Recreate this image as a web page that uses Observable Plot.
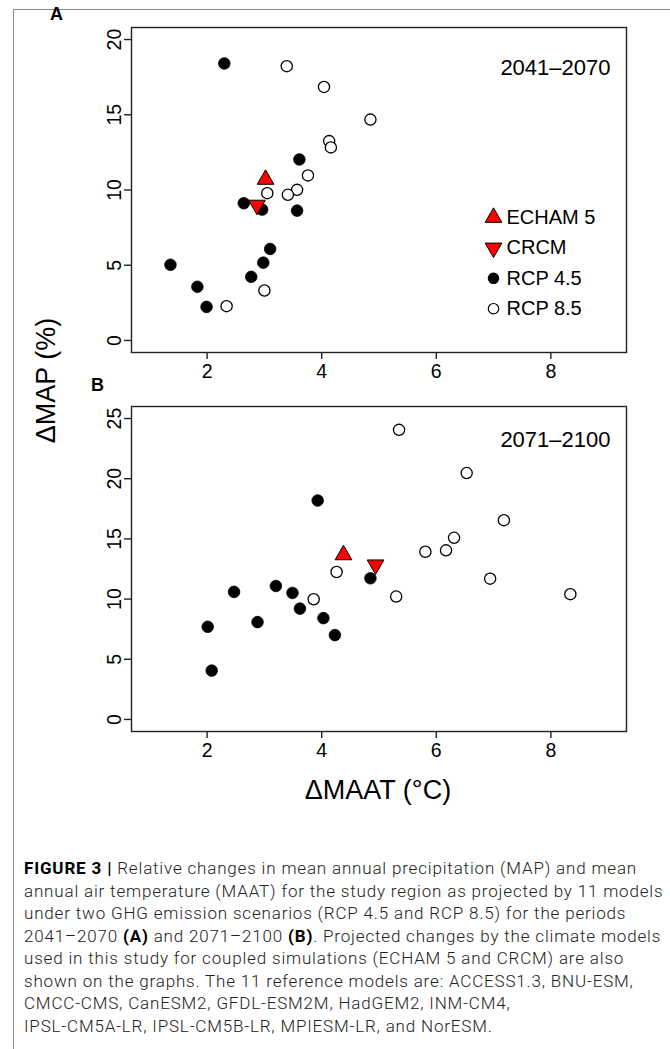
<!DOCTYPE html>
<html>
<head>
<meta charset="utf-8">
<script src="https://cdn.jsdelivr.net/npm/d3@7"></script>
<script src="https://cdn.jsdelivr.net/npm/@observablehq/plot@0.6"></script>
<style>
  html, body { margin: 0; padding: 0; background: #fff; }
  #fig { position: relative; width: 670px; height: 1049px; overflow: hidden; font-family: "Liberation Sans", Arial, sans-serif; color: #000; }
  .rule-top { position: absolute; left: 13px; top: 9px; width: 657px; height: 0; border-top: 1.5px solid #8a8a8a; }
  .rule-left { position: absolute; left: 13px; top: 9px; width: 0; height: 1040px; border-left: 1.5px solid #8a8a8a; }
  .panel { position: absolute; left: 0; }
  .plabel { position: absolute; font-weight: bold; font-size: 18px; line-height: 1; }
  .ytitle { position: absolute; font-size: 27px; white-space: nowrap; transform-origin: center center; }
  .xtitle { position: absolute; font-size: 27px; white-space: nowrap; }
  #caption { position: absolute; left: 24px; top: 857px; font-family: Roboto, "Liberation Sans", sans-serif; font-weight: 300; font-size: 17px; line-height: 22.5px; color: #222; }
  #caption div { white-space: nowrap; width: max-content; }
  #caption b { font-weight: 700; color: #000; }
</style>
</head>
<body>
<div id="fig">
  <div class="rule-top"></div>
  <div class="rule-left"></div>
  <div id="panelA" class="panel" style="top:0px"></div>
  <div id="panelB" class="panel" style="top:380px"></div>
  <div class="plabel" style="left:50px; top:5px;">A</div>
  <div class="plabel" style="left:91px; top:376px;">B</div>
  <div class="ytitle" id="ytitle">ΔMAP (%)</div>
  <div class="xtitle" id="xtitle">ΔMAAT (°C)</div>
  <div id="caption">
    <div><b>FIGURE 3 |</b> Relative changes in mean annual precipitation (MAP) and mean</div>
    <div>annual air temperature (MAAT) for the study region as projected by 11 models</div>
    <div>under two GHG emission scenarios (RCP 4.5 and RCP 8.5) for the periods</div>
    <div>2041–2070 <b>(A)</b> and 2071–2100 <b>(B)</b>. Projected changes by the climate models</div>
    <div>used in this study for coupled simulations (ECHAM 5 and CRCM) are also</div>
    <div>shown on the graphs. The 11 reference models are: ACCESS1.3, BNU-ESM,</div>
    <div>CMCC-CMS, CanESM2, GFDL-ESM2M, HadGEM2, INM-CM4,</div>
    <div>IPSL-CM5A-LR, IPSL-CM5B-LR, MPIESM-LR, and NorESM.</div>
  </div>
</div>
<script>
// ---------- data ----------
const xTicks = [2, 4, 6, 8];
const yTicksA = [0, 5, 10, 15, 20];
const yTicksB = [0, 5, 10, 15, 20, 25];

// Panel A: 2041–2070
const a45x = [2.30, 3.61, 2.64, 2.96, 3.57, 3.10, 2.98, 1.36, 2.77, 1.83, 1.99];
const a45y = [18.41, 12.03, 9.12, 8.70, 8.63, 6.08, 5.17, 5.03, 4.23, 3.57, 2.23];
const a85x = [3.39, 4.04, 4.85, 4.13, 4.16, 3.76, 3.05, 3.57, 3.41, 3.00, 2.34];
const a85y = [18.23, 16.85, 14.68, 13.25, 12.83, 10.97, 9.79, 10.01, 9.68, 3.32, 2.28];
const aEchamX = [3.02], aEchamY = [10.70];
const aCrcmX = [2.87], aCrcmY = [9.00];

// Panel B: 2071–2100
const b45x = [3.93, 4.85, 3.20, 2.47, 3.49, 3.62, 2.88, 4.03, 2.01, 4.23, 2.08];
const b45y = [18.19, 11.73, 11.09, 10.60, 10.51, 9.21, 8.09, 8.42, 7.70, 7.01, 4.06];
const b85x = [5.35, 6.53, 7.18, 6.31, 5.81, 6.17, 4.26, 6.94, 5.30, 3.86, 8.34];
const b85y = [24.06, 20.47, 16.56, 15.09, 13.93, 14.05, 12.25, 11.70, 10.21, 9.99, 10.41];
const bEchamX = [4.38], bEchamY = [13.67];
const bCrcmX = [4.94], bCrcmY = [12.85];

const periods = ["2041–2070", "2071–2100"];
const legendLabels = ["ECHAM 5", "CRCM", "RCP 4.5", "RCP 8.5"];

// ---------- helpers ----------
const zip = (xs, ys) => xs.map((x, i) => ({x, y: ys[i]}));
const FONT = "'Liberation Sans', Arial, Helvetica, sans-serif";
const INK = "#222";

const legendStyles = [
  {symbol: "triangle", rotate: 0, fill: "#ff0000", r: 6.2},
  {symbol: "triangle", rotate: 180, fill: "#ff0000", r: 6.2},
  {symbol: "circle", rotate: 0, fill: "#000", r: 5.2},
  {symbol: "circle", rotate: 0, fill: "#fff", r: 5.2}
];

function panel({height, marginTop, marginBottom, yDomain, yTicks, r45, r85, echam, crcm, period, periodDy, legend}) {
  const marks = [
    Plot.frame({stroke: INK, strokeWidth: 1.4}),
    Plot.axisX(xTicks, {label: null, tickSize: 7, tickPadding: 5, fontSize: 19.5, stroke: INK, strokeWidth: 1.4, fill: "#000"}),
    Plot.axisY(yTicks, {label: null, tickSize: 7, tickPadding: 4, tickRotate: -90, fontSize: 19.5, stroke: INK, strokeWidth: 1.4, fill: "#000"}),
    Plot.dot(r85, {x: "x", y: "y", r: 5.6, fill: "#fff", stroke: "#000", strokeWidth: 1.3}),
    Plot.dot(r45, {x: "x", y: "y", r: 5.8, fill: "#000", stroke: "#000", strokeWidth: 0.8}),
    Plot.dot(echam, {x: "x", y: "y", symbol: "triangle", r: 6.2, fill: "#ff0000", stroke: "#000", strokeWidth: 1}),
    Plot.dot(crcm, {x: "x", y: "y", symbol: "triangle", rotate: 180, r: 6.2, fill: "#ff0000", stroke: "#000", strokeWidth: 1}),
    Plot.text([period], {frameAnchor: "top-right", dx: -16, dy: periodDy, fontSize: 22, textAnchor: "end", lineAnchor: "middle", fill: "#000"})
  ];
  if (legend) {
    legendLabels.forEach((label, i) => {
      const s = legendStyles[i];
      const dy = 190 + i * 30.4;
      marks.push(Plot.dot([label], {frameAnchor: "top-left", dx: 362, dy, symbol: s.symbol, rotate: s.rotate, r: s.r, fill: s.fill, stroke: "#000", strokeWidth: s.symbol === "circle" ? 1.2 : 1}));
      marks.push(Plot.text([label], {frameAnchor: "top-left", dx: 375, dy, text: d => d, fontSize: 20, textAnchor: "start", lineAnchor: "middle", fill: "#000"}));
    });
  }
  return Plot.plot({
    width: 670, height, marginLeft: 131, marginRight: 44, marginTop, marginBottom,
    style: {fontFamily: FONT, background: "transparent", color: "#000", overflow: "visible"},
    x: {domain: [0.68, 9.32], axis: null},
    y: {domain: yDomain, axis: null},
    marks
  });
}

document.getElementById("panelA").appendChild(panel({
  height: 380, marginTop: 27, marginBottom: 28,
  yDomain: [-0.8, 20.8], yTicks: yTicksA,
  r45: zip(a45x, a45y), r85: zip(a85x, a85y),
  echam: zip(aEchamX, aEchamY), crcm: zip(aCrcmX, aCrcmY),
  period: periods[0], periodDy: 40, legend: true
}));

document.getElementById("panelB").appendChild(panel({
  height: 400, marginTop: 26, marginBottom: 49,
  yDomain: [-1, 26], yTicks: yTicksB,
  r45: zip(b45x, b45y), r85: zip(b85x, b85y),
  echam: zip(bEchamX, bEchamY), crcm: zip(bCrcmX, bCrcmY),
  period: periods[1], periodDy: 33, legend: false
}));

// axis titles
const yt = document.getElementById("ytitle");
const ytw = yt.getBoundingClientRect().width, yth = yt.getBoundingClientRect().height;
yt.style.left = (47 - ytw / 2) + "px";
yt.style.top = (380 - yth / 2) + "px";
yt.style.transform = "rotate(-90deg)";
const xt = document.getElementById("xtitle");
const xtw = xt.getBoundingClientRect().width, xth = xt.getBoundingClientRect().height;
xt.style.left = (378 - xtw / 2) + "px";
xt.style.top = (790 - xth / 2) + "px";

// fit caption line 1 to the reference width (~613px) with uniform letter spacing
const cap = document.getElementById("caption");
const line1 = cap.firstElementChild;
const w1 = line1.getBoundingClientRect().width;
const n1 = line1.textContent.length;
cap.style.letterSpacing = Math.max(0, (613 - w1) / n1).toFixed(3) + "px";
</script>
</body>
</html>
